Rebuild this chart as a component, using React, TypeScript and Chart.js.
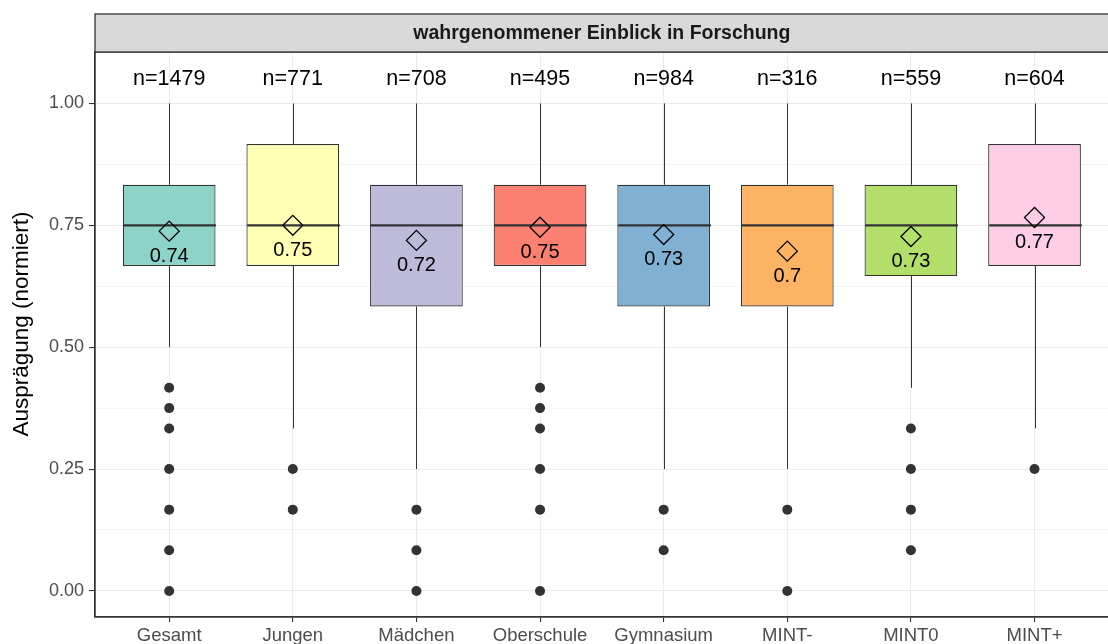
import React, { useEffect, useRef } from 'react';
import { Chart, registerables } from 'chart.js';

Chart.register(...registerables);

const categories = ['Gesamt', 'Jungen', 'Mädchen', 'Oberschule', 'Gymnasium', 'MINT-', 'MINT0', 'MINT+'];
const counts = [1479, 771, 708, 495, 984, 316, 559, 604];
const lowerQuartile = [0.6667, 0.6667, 0.5833, 0.6667, 0.5833, 0.5833, 0.6458, 0.6667];
const medians = [0.75, 0.75, 0.75, 0.75, 0.75, 0.75, 0.75, 0.75];
const upperQuartile = [0.8333, 0.9167, 0.8333, 0.8333, 0.8333, 0.8333, 0.8333, 0.9167];
const whiskerLow = [0.5, 0.3333, 0.25, 0.5, 0.25, 0.25, 0.4167, 0.3333];
const whiskerHigh = [1, 1, 1, 1, 1, 1, 1, 1];
const means = [0.738, 0.75, 0.719, 0.746, 0.731, 0.697, 0.727, 0.766];
const meanLabels = ['0.74', '0.75', '0.72', '0.75', '0.73', '0.7', '0.73', '0.77'];
const outliers = [
  [0.4167, 0.375, 0.3333, 0.25, 0.1667, 0.0833, 0],
  [0.25, 0.1667],
  [0.1667, 0.0833, 0],
  [0.4167, 0.375, 0.3333, 0.25, 0.1667, 0],
  [0.1667, 0.0833],
  [0.1667, 0],
  [0.3333, 0.25, 0.1667, 0.0833],
  [0.25],
];
const boxColors = ['#8DD3C7', '#FFFFB3', '#BEBADA', '#FB8072', '#80B1D3', '#FDB462', '#B3DE69', '#FCCDE5'];
const yMajorTicks = [0, 0.25, 0.5, 0.75, 1];
const yMinorTicks = [0.125, 0.375, 0.625, 0.875];
const countLabelY = 1.05;
const stripTitle = 'wahrgenommener Einblick in Forschung';
const yTitle = 'Ausprägung (normiert)';

const FONT = "'Liberation Sans', Arial, Helvetica, sans-serif";
const CANVAS_W = 1120;
const CANVAS_H = 650;

export default function App() {
  const ref = useRef<HTMLCanvasElement>(null);

  useEffect(() => {
    const canvas = ref.current;
    if (!canvas) return;

    const boxData = categories.map((_, i) => ({ x: i, y: [lowerQuartile[i], upperQuartile[i]] }));
    const outlierData = outliers.flatMap((arr, i) => arr.map((v) => ({ x: i, y: v })));
    const meanData = means.map((v, i) => ({ x: i, y: v }));

    const isMajor = (v: number) => yMajorTicks.some((t) => Math.abs(t - v) < 1e-6);

    const boxParts = {
      id: 'boxParts',
      afterDatasetDraw(chart: any, args: any) {
        if (args.index !== 0) return;
        const { ctx, scales } = chart;
        const xs = scales.x;
        const ys = scales.y;
        const meta = chart.getDatasetMeta(0);
        ctx.save();
        ctx.strokeStyle = '#333333';
        categories.forEach((_, i) => {
          const cx = Math.round(xs.getPixelForValue(i)) + 0.5;
          const w = meta.data[i].width;
          ctx.lineWidth = 1;
          ctx.beginPath();
          ctx.moveTo(cx, ys.getPixelForValue(upperQuartile[i]));
          ctx.lineTo(cx, ys.getPixelForValue(whiskerHigh[i]));
          ctx.moveTo(cx, ys.getPixelForValue(lowerQuartile[i]));
          ctx.lineTo(cx, ys.getPixelForValue(whiskerLow[i]));
          ctx.stroke();
          ctx.lineWidth = 2.3;
          ctx.beginPath();
          const my = ys.getPixelForValue(medians[i]);
          ctx.moveTo(cx - w / 2, my);
          ctx.lineTo(cx + w / 2, my);
          ctx.stroke();
        });
        ctx.restore();
      },
    };

    const annotations = {
      id: 'annotations',
      afterDatasetsDraw(chart: any) {
        const { ctx, scales } = chart;
        const xs = scales.x;
        const ys = scales.y;
        ctx.save();
        ctx.fillStyle = '#000000';
        ctx.textAlign = 'center';
        ctx.textBaseline = 'middle';
        categories.forEach((_, i) => {
          const cx = xs.getPixelForValue(i);
          ctx.font = `21.5px ${FONT}`;
          ctx.fillText(`n=${counts[i]}`, cx, ys.getPixelForValue(countLabelY));
          ctx.font = `20px ${FONT}`;
          ctx.fillText(meanLabels[i], cx, ys.getPixelForValue(means[i]) + 25);
        });
        ctx.restore();
      },
      afterDraw(chart: any) {
        const { ctx, chartArea } = chart;
        const { left, right, top, bottom } = chartArea;
        ctx.save();
        // panel border
        ctx.strokeStyle = '#333333';
        ctx.lineWidth = 1.3;
        ctx.strokeRect(left, top, right - left, bottom - top);
        // strip
        const stripTop = 14;
        ctx.fillStyle = '#D9D9D9';
        ctx.fillRect(left, stripTop, right - left, top - stripTop);
        ctx.strokeRect(left, stripTop, right - left, top - stripTop);
        ctx.fillStyle = '#1A1A1A';
        ctx.font = `bold 19.5px ${FONT}`;
        ctx.textAlign = 'center';
        ctx.textBaseline = 'middle';
        ctx.fillText(stripTitle, (left + right) / 2, (stripTop + top) / 2 + 1);
        // y title
        ctx.translate(22, 324);
        ctx.rotate(-Math.PI / 2);
        ctx.fillStyle = '#000000';
        ctx.font = `22.5px ${FONT}`;
        ctx.fillText(yTitle, 0, 0);
        ctx.restore();
      },
    };

    const chart = new Chart(canvas, {
      type: 'bar',
      data: {
        datasets: [
          {
            type: 'bar',
            data: boxData as any,
            backgroundColor: boxColors,
            borderColor: '#333333',
            borderWidth: 1.2,
            borderSkipped: false,
            barPercentage: 0.75,
            categoryPercentage: 1,
            order: 3,
          } as any,
          {
            type: 'scatter',
            data: outlierData,
            pointRadius: 5,
            pointBackgroundColor: '#333333',
            pointBorderWidth: 0,
            order: 2,
          } as any,
          {
            type: 'scatter',
            data: meanData,
            pointStyle: 'rectRot',
            pointRadius: 10,
            pointBackgroundColor: 'rgba(0,0,0,0)',
            pointBorderColor: '#000000',
            pointBorderWidth: 1.3,
            order: 1,
          } as any,
        ],
      },
      options: {
        responsive: false,
        maintainAspectRatio: false,
        devicePixelRatio: 1,
        animation: false,
        layout: { padding: { left: 0, top: 52, right: 1, bottom: 0 } },
        plugins: { legend: { display: false }, tooltip: { enabled: false } },
        scales: {
          x: {
            type: 'linear',
            min: -0.6,
            max: 7.6,
            offset: false,
            afterBuildTicks: (scale: any) => {
              scale.ticks = categories.map((_, i) => ({ value: i }));
            },
            afterFit: (scale: any) => {
              scale.height = CANVAS_H - 617;
            },
            ticks: {
              autoSkip: false,
              maxRotation: 0,
              minRotation: 0,
              padding: 3,
              color: '#4D4D4D',
              font: { family: FONT, size: 18.5 },
              callback: (v: any) => categories[Math.round(Number(v))] ?? '',
            },
            grid: {
              offset: false,
              color: '#EBEBEB',
              lineWidth: 1.07,
              tickColor: '#333333',
              tickLength: 5,
              tickWidth: 1.1,
            },
            border: { display: true, color: '#333333', width: 1.3 },
          },
          y: {
            type: 'linear',
            min: -0.0535,
            max: 1.1055,
            afterBuildTicks: (scale: any) => {
              scale.ticks = [...yMajorTicks, ...yMinorTicks]
                .sort((a, b) => a - b)
                .map((v) => ({ value: v }));
            },
            afterFit: (scale: any) => {
              scale.width = 95;
            },
            ticks: {
              autoSkip: false,
              padding: 5,
              color: '#4D4D4D',
              font: { family: FONT, size: 18 },
              callback: (v: any) => (isMajor(Number(v)) ? Number(v).toFixed(2) : ''),
            },
            grid: {
              color: '#EBEBEB',
              lineWidth: (ctx: any) => (ctx.tick && isMajor(ctx.tick.value) ? 1.07 : 0.55),
              tickColor: (ctx: any) => (ctx.tick && isMajor(ctx.tick.value) ? '#333333' : 'rgba(0,0,0,0)'),
              tickLength: 6,
              tickWidth: 1.1,
            },
            border: { display: true, color: '#333333', width: 1.3 },
          },
        },
      } as any,
      plugins: [boxParts, annotations],
    });

    return () => chart.destroy();
  }, []);

  return (
    <div
      style={{
        position: 'fixed',
        left: 0,
        top: 0,
        width: 1108,
        height: 644,
        overflow: 'hidden',
        background: '#ffffff',
      }}
    >
      <canvas
        ref={ref}
        width={CANVAS_W}
        height={CANVAS_H}
        style={{ width: CANVAS_W, height: CANVAS_H, display: 'block' }}
      />
    </div>
  );
}
